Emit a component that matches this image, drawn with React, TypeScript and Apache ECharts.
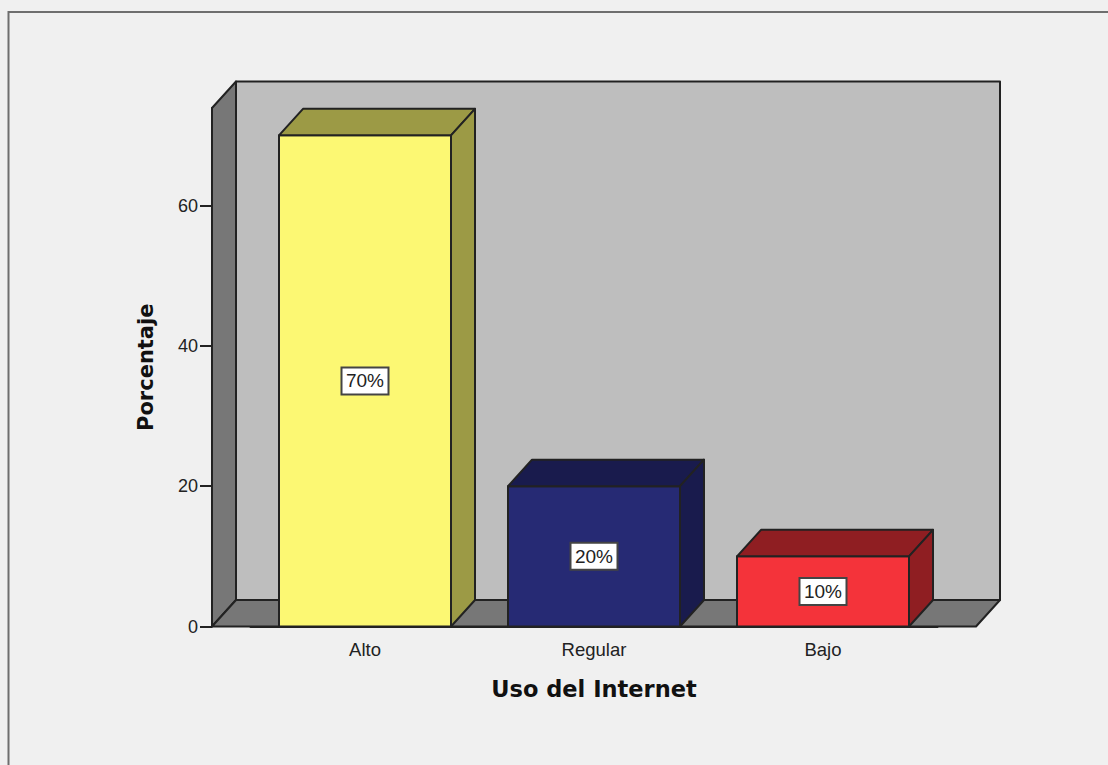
import React, { useEffect, useRef } from "react";
import * as echarts from "echarts";

const categories = ["Alto", "Regular", "Bajo"];
const values = [70, 20, 10];
const frontColors = ["#fcf873", "#262a74", "#f4333a"];
const sideColors = ["#9c9a45", "#191b4d", "#8f1e22"];
const yTicks = [0, 20, 40, 60];

const DX = 24;
const DY = 26.5;
const FLOOR_LEFT = 38.5;
const FLOOR_RIGHT = 38.5;
const BAR_W = 172;
const EDGE = "#222222";

export default function App() {
  const ref = useRef<HTMLDivElement>(null);
  useEffect(() => {
    document.body.style.margin = "0";
    document.body.style.background = "#f0f0f0";
    const chart = echarts.init(ref.current!, null, { renderer: "svg" });
    const lineStyle = { stroke: EDGE, lineWidth: 2, lineJoin: "round" };
    const poly = (points: number[][], fill: string) => ({
      type: "polygon",
      shape: { points },
      style: { fill, ...lineStyle },
    });
    chart.setOption({
      animation: false,
      backgroundColor: "#f0f0f0",
      textStyle: { fontFamily: "Liberation Sans" },
      grid: { left: 250.5, width: 687, top: 108, bottom: 138.5, containLabel: false },
      xAxis: {
        type: "category",
        data: categories,
        name: "Uso del Internet",
        nameLocation: "middle",
        nameGap: 51,
        nameTextStyle: { fontFamily: "DejaVu Sans", fontWeight: "bold", fontSize: 22.5, color: "#111" },
        axisLine: { lineStyle: { color: EDGE, width: 2 } },
        axisTick: { alignWithLabel: true, length: 12, lineStyle: { color: EDGE, width: 2 } },
        axisLabel: { fontSize: 18.5, color: "#222", margin: 13 },
      },
      yAxis: {
        type: "value",
        min: 0,
        max: 73.9,
        interval: 20,
        offset: FLOOR_LEFT,
        name: "Porcentaje",
        nameLocation: "middle",
        nameGap: 56,
        nameTextStyle: { fontFamily: "DejaVu Sans", fontWeight: "bold", fontSize: 21, color: "#111" },
        splitLine: { show: false },
        axisLine: { show: true, lineStyle: { color: EDGE, width: 2 } },
        axisTick: { show: true, length: 12, customValues: yTicks, lineStyle: { color: EDGE, width: 2 } },
        axisLabel: { fontSize: 18, color: "#222", margin: 14, customValues: yTicks },
      },
      graphic: [
        {
          type: "polyline",
          silent: true,
          z: 100,
          shape: { points: [[8.5, 765], [8.5, 12], [1108, 12]] },
          style: { fill: "none", stroke: "#6e6e6e", lineWidth: 2 },
        },
      ],
      series: [
        {
          type: "custom",
          z: 1,
          data: [0],
          silent: true,
          renderItem: (params: any) => {
            const c = params.coordSys;
            const l = c.x - FLOOR_LEFT;
            const r = c.x + c.width + FLOOR_RIGHT;
            const t = c.y;
            const b = c.y + c.height;
            return {
              type: "group",
              children: [
                poly([[l + DX, t - DY], [r + DX, t - DY], [r + DX, b - DY], [l + DX, b - DY]], "#bebebe"),
                poly([[l, t], [l + DX, t - DY], [l + DX, b - DY], [l, b]], "#777777"),
                poly([[l, b], [l + DX, b - DY], [r + DX, b - DY], [r, b]], "#777777"),
              ],
            };
          },
        },
        {
          type: "custom",
          z: 2,
          silent: true,
          data: values.map((v, i) => [i, v]),
          encode: { x: 0, y: 1 },
          renderItem: (params: any, api: any) => {
            const i = api.value(0);
            const v = api.value(1);
            const [cx, yTop] = api.coord([i, v]);
            const [, yBase] = api.coord([i, 0]);
            const [, yMid] = api.coord([i, v / 2]);
            const x0 = cx - BAR_W / 2;
            const x1 = cx + BAR_W / 2;
            const idx = params.dataIndex;
            return {
              type: "group",
              children: [
                poly([[x0, yTop], [x1, yTop], [x1, yBase], [x0, yBase]], frontColors[idx]),
                poly([[x0, yTop], [x0 + DX, yTop - DY], [x1 + DX, yTop - DY], [x1, yTop]], sideColors[idx]),
                poly([[x1, yTop], [x1 + DX, yTop - DY], [x1 + DX, yBase - DY], [x1, yBase]], sideColors[idx]),
                {
                  type: "rect",
                  shape: { x: cx - 23.5, y: yMid - 13.5, width: 47, height: 27 },
                  style: { fill: "#ffffff", stroke: "#444444", lineWidth: 2 },
                },
                {
                  type: "text",
                  x: cx,
                  y: yMid,
                  style: {
                    text: `${v}%`,
                    fill: "#222",
                    font: "19px 'Liberation Sans'",
                    align: "center",
                    verticalAlign: "middle",
                  },
                },
              ],
            };
          },
        },
      ],
    });
    return () => chart.dispose();
  }, []);
  return <div ref={ref} style={{ width: 1108, height: 765 }} />;
}
